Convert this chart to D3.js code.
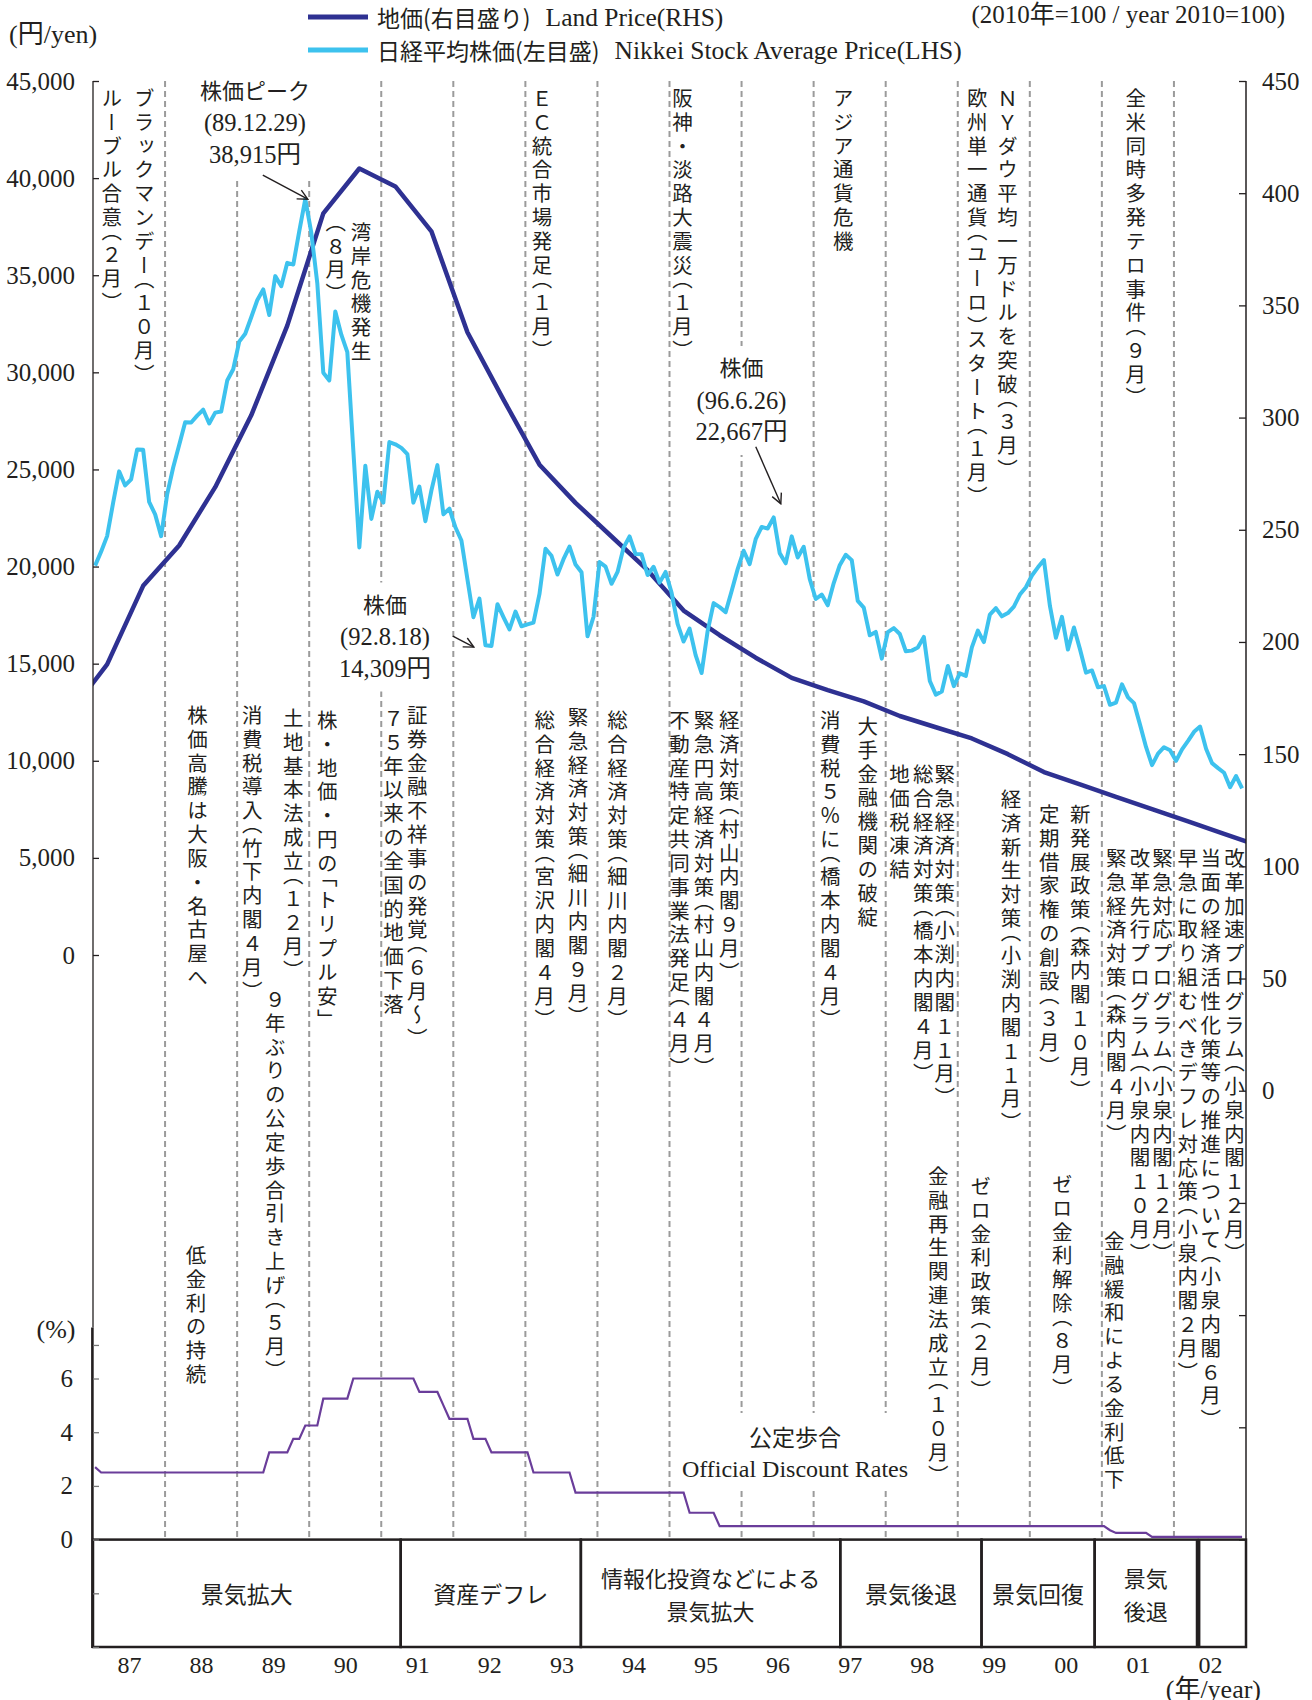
<!DOCTYPE html>
<html>
<head>
<meta charset="utf-8">
<title>地価・株価・公定歩合の推移</title>
<style>
  body{margin:0;background:#fff;}
  svg text{font-family:'Liberation Serif','Noto Sans CJK JP',serif;fill:#231f20;}
  svg text.jp{font-family:'Noto Sans CJK JP',sans-serif;}
  svg text.vt{font-family:'Noto Sans CJK JP',sans-serif;writing-mode:vertical-rl;font-size:20.5px;letter-spacing:3.3px;}
  svg text.vt tspan.mark{font-feature-settings:"vhal" 1;}
</style>
</head>
<body>
<div id="graph-container"></div>
<script src="https://d3js.org/d3.v7.min.js"></script>
<script>
// Nikkei average, month-end close (yen), one row per year Jan..Dec, 1987..2002
var nikkeiClose = [
  [20048,20767,21567,23275,24902,24176,24489,26029,26011,23329,22686,21564],
  [23719,25101,26260,27434,27417,27769,28074,27367,27924,27983,29579,30159],
  [31581,31986,32839,33713,34267,32949,34954,34431,35637,35549,37269,38916],
  [37189,34592,29980,29585,33131,31940,31036,25978,20984,25194,22454,23849],
  [23293,26409,26292,26111,25790,23291,24121,22336,23916,25222,22687,22984],
  [22023,21339,19346,17391,18348,15952,15910,18061,17399,16767,17684,16925],
  [17024,17113,18591,20919,20552,19590,20380,21027,20106,19704,16408,17417],
  [20229,19997,19112,19725,20974,21552,20642,20629,19564,19990,19172,19723],
  [18650,17053,16140,16807,15437,14517,16678,18117,17913,17655,18744,19868],
  [20813,20125,21407,22041,21956,22531,20692,20167,21556,20467,21020,19361],
  [18330,18557,18003,19151,20069,20605,20331,18229,17888,16459,16636,15259],
  [16628,16832,16527,15641,15671,15830,16379,14108,13406,13564,14884,13842],
  [14499,14368,15837,16702,16112,17530,17862,17437,17605,17942,18558,18934],
  [19540,19960,20337,17974,16332,17411,15727,16861,15747,14540,14649,13786],
  [13843,12884,12999,13934,13262,12969,11861,10714, 9775,10367,10697,10543],
  [ 9998,10588,11025,11493,11764,10622, 9878, 9620, 9383, 8640, 9216, 8579]
];

// land price index (2010=100), March and September readings
var landIndex = [
  [1986,9,169],
  [1987,3,190],[1987,9,225],[1988,3,243],[1988,9,269],
  [1989,3,301],[1989,9,341],[1990,3,391],[1990,9,411],
  [1991,3,403],[1991,9,383],[1992,3,338],[1992,9,308],
  [1993,3,279],[1993,9,262],[1994,3,247],[1994,9,232],
  [1995,3,214],[1995,9,203],[1996,3,193],[1996,9,184],
  [1997,3,178.5],[1997,9,173.5],[1998,3,167],[1998,9,162],
  [1999,3,157],[1999,9,150],[2000,3,142],[2000,9,136.5],
  [2001,3,131],[2001,9,125.5],[2002,3,120],[2002,9,114.5],
  [2003,3,109]
];

// official discount rate (%), month end, one row per year
var discountRate = [
  [2.7,2.5,2.5,2.5,2.5,2.5,2.5,2.5,2.5,2.5,2.5,2.5],
  [2.5,2.5,2.5,2.5,2.5,2.5,2.5,2.5,2.5,2.5,2.5,2.5],
  [2.5,2.5,2.5,2.5,2.5,3.25,3.25,3.25,3.25,3.75,3.75,4.25],
  [4.25,4.25,5.25,5.25,5.25,5.25,5.25,6,6,6,6,6],
  [6,6,6,6,6,6,5.5,5.5,5.5,5.5,5,4.5],
  [4.5,4.5,4.5,3.75,3.75,3.75,3.25,3.25,3.25,3.25,3.25,3.25],
  [3.25,2.5,2.5,2.5,2.5,2.5,2.5,2.5,1.75,1.75,1.75,1.75],
  [1.75,1.75,1.75,1.75,1.75,1.75,1.75,1.75,1.75,1.75,1.75,1.75],
  [1.75,1.75,1.75,1,1,1,1,1,0.5,0.5,0.5,0.5],
  [0.5,0.5,0.5,0.5,0.5,0.5,0.5,0.5,0.5,0.5,0.5,0.5],
  [0.5,0.5,0.5,0.5,0.5,0.5,0.5,0.5,0.5,0.5,0.5,0.5],
  [0.5,0.5,0.5,0.5,0.5,0.5,0.5,0.5,0.5,0.5,0.5,0.5],
  [0.5,0.5,0.5,0.5,0.5,0.5,0.5,0.5,0.5,0.5,0.5,0.5],
  [0.5,0.5,0.5,0.5,0.5,0.5,0.5,0.5,0.5,0.5,0.5,0.5],
  [0.5,0.35,0.25,0.25,0.25,0.25,0.25,0.25,0.1,0.1,0.1,0.1],
  [0.1,0.1,0.1,0.1,0.1,0.1,0.1,0.1,0.1,0.1,0.1,0.1]
];

var yearLabels = ['87','88','89','90','91','92','93','94','95','96','97','98','99','00','01','02'];
var yenTicks = [0,5000,10000,15000,20000,25000,30000,35000,40000,45000];
var indexTicks = [-200,-150,-100,-50,0,50,100,150,200,250,300,350,400,450];
var rateTicks = [-4,-2,0,2,4,6,7.25];

// quoted Nikkei prices: label lines, date, yen
var quotedPrices = [
  [['株価ピーク','(89.12.29)','38,915円'], 1989 + (11 + 29/31)/12, 38915],
  [['株価','(92.8.18)','14,309円'], 1992 + (7 + 18/31)/12, 14309],
  [['株価','(96.6.26)','22,667円'], 1996 + (5 + 26/30)/12, 22667]
];

// business cycle phases
var phaseNames = [['景気拡大'],['資産デフレ'],['情報化投資などによる','景気拡大'],['景気後退'],['景気回復'],['景気','後退'],[]];
var phaseStart = [1987, 1991.27, 1993.77, 1997.37, 1999.33, 2000.9, 2002.35];
var phaseEnd   = [1991.27, 1993.77, 1997.37, 1999.33, 2000.9, 2002.32, 2003];

// vertical event notes: text, date column, top of column
var eventNotes = [
  ['ルーブル合意（２月）',1987.26,88],
  ['ブラックマンデー（１０月）',1987.71,88],
  ['湾岸危機発生',1990.72,222],
  ['（８月）',1990.37,222],
  ['ＥＣ統合市場発足（１月）',1993.23,88],
  ['阪神・淡路大震災（１月）',1995.18,88],
  ['アジア通貨危機',1997.41,88],
  ['欧州単一通貨（ユーロ）スタート（１月）',1999.27,88],
  ['ＮＹダウ平均一万ドルを突破（３月）',1999.69,88],
  ['全米同時多発テロ事件（９月）',2001.47,88],
  ['株価高騰は大阪・名古屋へ',1988.45,705],
  ['消費税導入（竹下内閣４月）',1989.21,705],
  ['９年ぶりの公定歩合引き上げ（５月）',1989.53,989],
  ['土地基本法成立（１２月）',1989.78,708],
  ['株・地価・円の「トリプル安」',1990.25,710],
  ['７５年以来の全国的地価下落',1991.17,708],
  ['証券金融不祥事の発覚（６月～）',1991.5,705],
  ['総合経済対策（宮沢内閣４月）',1993.27,710],
  ['緊急経済対策（細川内閣９月）',1993.73,707],
  ['総合経済対策（細川内閣２月）',1994.28,710],
  ['不動産特定共同事業法発足（４月）',1995.14,710],
  ['緊急円高経済対策（村山内閣４月）',1995.48,710],
  ['経済対策（村山内閣９月）',1995.83,710],
  ['消費税５％に（橋本内閣４月）',1997.23,710],
  ['大手金融機関の破綻',1997.75,716],
  ['地価税凍結',1998.19,764],
  ['総合経済対策（橋本内閣４月）',1998.52,764],
  ['緊急経済対策（小渕内閣１１月）',1998.82,764],
  ['経済新生対策（小渕内閣１１月）',1999.74,789],
  ['定期借家権の創設（３月）',2000.27,804],
  ['新発展政策（森内閣１０月）',2000.70,804],
  ['緊急経済対策（森内閣４月）',2001.20,848],
  ['改革先行プログラム（小泉内閣１０月）',2001.53,848],
  ['緊急対応プログラム（小泉内閣１２月）',2001.84,848],
  ['早急に取り組むべきデフレ対応策（小泉内閣２月）',2002.19,848],
  ['当面の経済活性化策等の推進について（小泉内閣６月）',2002.51,848],
  ['改革加速プログラム（小泉内閣１２月）',2002.84,848],
  ['低金利の持続',1988.43,1245],
  ['金融再生関連法成立（１０月）',1998.73,1166],
  ['ゼロ金利政策（２月）',1999.32,1176],
  ['ゼロ金利解除（８月）',2000.45,1174],
  ['金融緩和による金利低下',2001.17,1231]
];

var W = 1312, H = 1700;
var x = d3.scaleLinear().domain([1987, 2003]).range([93, 1246]);
var yYen = d3.scaleLinear().domain([0, 45000]).range([955, 81]);
var yIdx = d3.scaleLinear().domain([-200, 450]).range([1539.5, 81]);
var yRate = d3.scaleLinear().domain([-4, 7.9]).range([1647, 1327.5]);
var bandTop = yRate(0), bandBottom = yRate(-4);

function monthPos(year, m){ return year + (m - 1 + 0.35)/12 }

var nikkeiPts = [];
nikkeiClose.forEach(function(row, i){
  row.forEach(function(v, m){ nikkeiPts.push({t: monthPos(1987+i, m+1), v: v}) })
});
var ratePts = [];
discountRate.forEach(function(row, i){
  row.forEach(function(v, m){ ratePts.push({t: monthPos(1987+i, m+1), v: v}) })
});
var landPts = landIndex.map(function(d){ return {t: monthPos(d[0], d[1]), v: d[2]} });

var svg = d3.select('#graph-container').append('svg')
  .attr('width', W).attr('height', H);

var defs = svg.append('defs');
defs.append('clipPath').attr('id','plotclip')
  .append('rect').attr('x', x(1987)).attr('y', 0).attr('width', x(2003)-x(1987)).attr('height', H);
defs.append('marker').attr('id','arrow')
  .attr('viewBox','0 0 12 12').attr('refX',11).attr('refY',6)
  .attr('markerWidth',12).attr('markerHeight',12).attr('markerUnits','userSpaceOnUse')
  .attr('orient','auto')
  .append('path').attr('d','M1,1 L11,6 L1,11').attr('fill','none').attr('stroke','#231f20').attr('stroke-width',1.4);

// year boundary dashed lines
svg.append('g').selectAll('line').data(d3.range(1988, 2003)).enter().append('line')
  .attr('x1', function(d){return x(d)}).attr('x2', function(d){return x(d)})
  .attr('y1', yYen(45000)).attr('y2', bandTop)
  .attr('stroke','#9b9b9b').attr('stroke-width',2).attr('stroke-dasharray','6,4');

// horizontal labels with white backing
var labelLayer = svg.append('g');
function stackLabel(lines, cx, firstY, gap){
  var g = labelLayer.append('g');
  lines.forEach(function(s, i){
    g.append('text').attr('x', cx).attr('y', firstY + i*gap)
      .attr('text-anchor','middle').attr('dominant-baseline','central')
      .style('font-size', (i === 0 ? 22 : 24.5)+'px').text(s);
  });
  var b = g.node().getBBox();
  g.insert('rect','text').attr('x', b.x-6).attr('y', b.y-10).attr('width', b.width+12).attr('height', b.height+20).attr('fill','#fff');
}
var labelAt = [[255, 91], [385, 605], [741.5, 368.5]];
var arrowFrom = [[-46,-24,-1,0], [-46,-41,-25,-30], [-21,-68,4,-11]];
quotedPrices.forEach(function(q, i){
  stackLabel(q[0], labelAt[i][0], labelAt[i][1], 31.5);
});
var odr = labelLayer.append('g');
odr.append('text').attr('class','jp').attr('x', 795).attr('y', 1436).attr('text-anchor','middle')
  .attr('dominant-baseline','central').style('font-size','23px').text('公定歩合');
odr.append('text').attr('x', 795).attr('y', 1469).attr('text-anchor','middle')
  .attr('dominant-baseline','central').style('font-size','24px').text('Official Discount Rates');
var ob = odr.node().getBBox();
odr.insert('rect','text').attr('x', ob.x-4).attr('y', ob.y-6).attr('width', ob.width+8).attr('height', ob.height+12).attr('fill','#fff');

// vertical annotation columns: vertical text, one tspan per character;
// brackets get half-height vertical metrics, everything else full pitch
var noteLayer = svg.append('g');
var marks = '（）「」';
eventNotes.forEach(function(n){
  var t = noteLayer.append('text').attr('class','vt').attr('x', x(n[1])).attr('y', n[2]);
  Array.from(n[0]).forEach(function(ch){
    t.append('tspan').attr('class', marks.indexOf(ch) >= 0 ? 'mark' : null).text(ch);
  });
});

// data lines
var plot = svg.append('g').attr('clip-path','url(#plotclip)');
plot.append('path').datum(landPts)
  .attr('d', d3.line().x(function(d){return x(d.t)}).y(function(d){return yIdx(d.v)}))
  .attr('fill','none').attr('stroke','#2e3192').attr('stroke-width',4.5).attr('stroke-linejoin','round');
plot.append('path').datum(nikkeiPts)
  .attr('d', d3.line().x(function(d){return x(d.t)}).y(function(d){return yYen(d.v)}))
  .attr('fill','none').attr('stroke','#3dc2ee').attr('stroke-width',4).attr('stroke-linejoin','round');
plot.append('path').datum(ratePts)
  .attr('d', d3.line().x(function(d){return x(d.t)}).y(function(d){return yRate(d.v)}))
  .attr('fill','none').attr('stroke','#6a3d9a').attr('stroke-width',2.2);

// arrows toward the quoted prices
quotedPrices.forEach(function(q, i){
  var px = x(q[1]), py = yYen(q[2]), a = arrowFrom[i];
  svg.append('line').attr('x1', px+a[0]).attr('y1', py+a[1]).attr('x2', px+a[2]).attr('y2', py+a[3])
    .attr('stroke','#231f20').attr('stroke-width',1.4).attr('marker-end','url(#arrow)');
});

// business cycle band
var band = svg.append('g');
phaseNames.forEach(function(lines, i){
  var x0 = x(phaseStart[i]), x1 = x(phaseEnd[i]);
  band.append('rect').attr('x', x0).attr('y', bandTop).attr('width', x1-x0).attr('height', bandBottom-bandTop)
    .attr('fill','none').attr('stroke','#231f20').attr('stroke-width',2.5);
  var size = lines.length > 1 ? 22 : 23;
  lines.forEach(function(s, j){
    band.append('text').attr('class','jp').attr('x', (x0+x1)/2)
      .attr('y', (bandTop+bandBottom)/2 + (j - (lines.length-1)/2)*33)
      .attr('text-anchor','middle').attr('dominant-baseline','central')
      .style('font-size', size+'px').text(s);
  });
});

// axes: thin upper spine, heavier spine along the rate panel and band
svg.append('line').attr('x1', x(1987)).attr('x2', x(1987)).attr('y1', yYen(45000)).attr('y2', yRate(7.9))
  .attr('stroke','#231f20').attr('stroke-width',1.3);
svg.append('line').attr('x1', x(1987)-0.6).attr('x2', x(1987)-0.6).attr('y1', yRate(7.9)).attr('y2', bandBottom+1)
  .attr('stroke','#231f20').attr('stroke-width',2.6);
svg.append('line').attr('x1', x(2003)).attr('x2', x(2003)).attr('y1', yIdx(450)).attr('y2', bandTop)
  .attr('stroke','#231f20').attr('stroke-width',1.5);

var axYen = svg.append('g').attr('transform','translate('+x(1987)+',0)')
  .call(d3.axisLeft(yYen).tickValues(yenTicks).tickSize(-6).tickSizeOuter(0).tickPadding(18).tickFormat(d3.format(',')));
var axIdx = svg.append('g').attr('transform','translate('+x(2003)+',0)')
  .call(d3.axisRight(yIdx).tickValues(indexTicks).tickSize(-7).tickSizeOuter(0).tickPadding(16)
    .tickFormat(function(d){ return d >= 0 ? d : '' }));
var axRate = svg.append('g').attr('transform','translate('+x(1987)+',0)')
  .call(d3.axisLeft(yRate).tickValues(rateTicks).tickSize(-6).tickSizeOuter(0).tickPadding(20)
    .tickFormat(function(d){ return (d >= 0 && d % 2 === 0) ? d : '' }));
var axYear = svg.append('g').attr('transform','translate(0,'+bandBottom+')')
  .call(d3.axisBottom(x).tickValues(d3.range(1987, 2003).map(function(d){return d+0.5}))
    .tickSize(0).tickPadding(9).tickFormat(function(d, i){ return yearLabels[i] }));
[axYen, axIdx, axRate, axYear].forEach(function(a){
  a.select('.domain').remove();
  a.selectAll('.tick line').attr('stroke','#231f20').attr('stroke-width',1.3);
  a.selectAll('.tick text').style('font-size','25px').style('font-family',"'Liberation Serif',serif").attr('fill','#231f20');
});
axRate.selectAll('.tick line').attr('stroke','#777');
axYear.selectAll('.tick text').style('font-size','24px');

// unit captions
svg.append('text').attr('x', 9).attr('y', 34).attr('dominant-baseline','central').style('font-size','26px').text('(円/yen)');
svg.append('text').attr('x', 1285).attr('y', 23).attr('text-anchor','end').style('font-size','25px').text('(2010年=100 / year 2010=100)');
svg.append('text').attr('x', 56).attr('y', 1329).attr('text-anchor','middle').attr('dominant-baseline','central').style('font-size','26px').text('(%)');
svg.append('text').attr('x', 1261).attr('y', 1689).attr('text-anchor','end').attr('dominant-baseline','central').style('font-size','26px').text('(年/year)');

// legend
var legendItems = [['地価(右目盛り)','Land Price(RHS)','#2e3192',17],['日経平均株価(左目盛)','Nikkei Stock Average Price(LHS)','#3dc2ee',50]];
legendItems.forEach(function(l){
  svg.append('line').attr('x1',308).attr('x2',368).attr('y1',l[3]).attr('y2',l[3]).attr('stroke',l[2]).attr('stroke-width',5);
  var t = svg.append('text').attr('x',377).attr('y',l[3]).attr('dominant-baseline','central');
  t.append('tspan').style('font-family',"'Noto Sans CJK JP'").style('font-size','23px').text(l[0]);
  t.append('tspan').attr('dx',15).style('font-size','25.5px').text(l[1]);
});
</script>
</body>
</html>
